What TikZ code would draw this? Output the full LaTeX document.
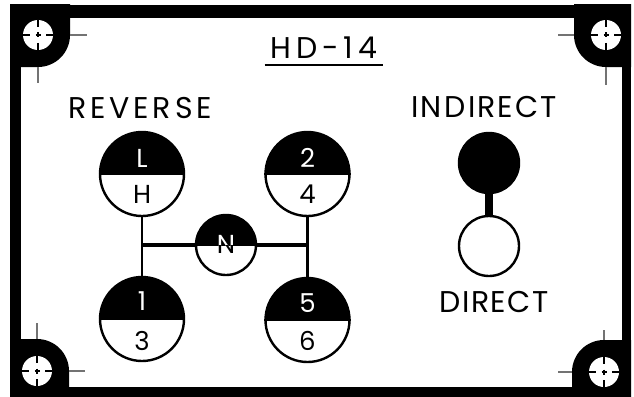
\documentclass[tikz,border=0pt]{standalone}
\usepackage{fontspec}
\newfontfamily\platefont{Poppins}
\newfontfamily\gearfont{Poppins}

\tikzset{
  outline/.style={line width=2.4pt},
  gear/.style={circle, draw, outline, minimum size=84pt, inner sep=0pt,
    path picture={\fill[black] (path picture bounding box.north west)
      rectangle (path picture bounding box.east);}},
  smallgear/.style={gear, minimum size=60pt},
  plainball/.style={circle, draw, outline, minimum size=60pt, inner sep=0pt},
  toplbl/.style={text=white, inner sep=0pt, font=\gearfont\fontsize{26}{28}\selectfont},
  botlbl/.style={text=black, inner sep=0pt, font=\gearfont\fontsize{26}{28}\selectfont},
  caption/.style={inner sep=0pt,
    font=\platefont\fontsize{30}{32}\selectfont\addfontfeature{LetterSpace=#1}},
  stem/.style={line width=2.6pt},
  bar/.style={line width=4pt},
  neck/.style={line width=8pt},
  guide/.style={line width=1.6pt, black!55},
  crosshair/.style={line width=1.4pt, black},
}

\begin{document}
\begin{tikzpicture}[x=1pt, y=-1pt]
\useasboundingbox (0,0) rectangle (634,396);

% plate with black rim and rounded corner blocks
\begin{scope}
  \clip (10,5) rectangle (631,400);
  \fill[black] (10,5) rectangle (631,400);
  \fill[white] (21,18) rectangle (622,387);
  \fill[black, rounded corners=32pt] (-40,-40) rectangle (70,67);
  \fill[black, rounded corners=32pt] (574,-40) rectangle (680,67);
  \fill[black, rounded corners=32pt] (-40,339) rectangle (69,440);
  \fill[black, rounded corners=32pt] (572,340) rectangle (680,440);
\end{scope}

% screw holes with crosshairs
\foreach \hx/\hy in {38/35, 606/35, 37/371, 604/372} {
  \fill[white] (\hx,\hy) circle[radius=15pt];
  \draw[crosshair] (\hx-15,\hy) -- (\hx-8,\hy) (\hx+8,\hy) -- (\hx+15,\hy)
                   (\hx,\hy-15) -- (\hx,\hy-8) (\hx,\hy+8) -- (\hx,\hy+15)
                   (\hx-2.5,\hy) -- (\hx+2.5,\hy) (\hx,\hy-2.5) -- (\hx,\hy+2.5);
}

% alignment ticks beside the corner blocks
\draw[guide] (70,35) -- (87,35) (38,67) -- (38,83);
\draw[guide] (558,35) -- (574,35) (606,67) -- (606,85);
\draw[guide] (37,323) -- (37,339) (69,371) -- (85,371);
\draw[guide] (558,372) -- (572,372) (604,330) -- (604,340);

% title
\node[caption=16] (title) at (324,48) {HD-14};
\draw[line width=2.8pt] ([xshift=-6pt,yshift=-6pt]title.south west)
  -- ([xshift=6pt,yshift=-6pt]title.south east);

% captions
\node[caption=13] (reverse) at (140,108) {REVERSE};
\node[caption=7] (indirect) at (484,107) {IN\kern3pt DIRECT};
\node[caption=5] (direct) at (494,302) {DIRECT};

% shift gate positions
\node[gear] (lh) at (142,174) {};
\node[gear] (tf) at (307.5,174) {};
\node[gear] (ot) at (142,319) {};
\node[gear] (fs) at (307.5,320) {};
\node[smallgear] (n) at (226,245) {};

\foreach \g in {lh, tf, ot, fs, n}
  \draw[outline] (\g.west) -- (\g.east);

% gate connections
\draw[stem] (lh) -- (ot);
\draw[stem] (tf) -- (fs);
\draw[bar] (n.west) -- (n.west -| lh.center);
\draw[bar] (n.east) -- (n.east -| tf.center);

% gear labels
\node[toplbl] (lhTop) at ([yshift=16pt]lh.center) {L};
\node[botlbl] (lhBot) at ([yshift=-20pt]lh.center) {H};
\node[toplbl] (tfTop) at ([yshift=16pt]tf.center) {2};
\node[botlbl] (tfBot) at ([yshift=-20pt]tf.center) {4};
\node[toplbl] (otTop) at ([yshift=18pt]ot.center) {1};
\node[botlbl] (otBot) at ([yshift=-22pt]ot.center) {3};
\node[toplbl] (fsTop) at ([yshift=17pt]fs.center) {5};
\node[botlbl] (fsBot) at ([yshift=-21pt]fs.center) {6};

% neutral letter split across the two halves
\begin{scope}
  \clip ([xshift=-40pt]n.center) rectangle ([xshift=40pt,yshift=40pt]n.center);
  \node[toplbl] (nTop) at ([yshift=1pt]n.center) {N};
\end{scope}
\begin{scope}
  \clip ([xshift=-40pt]n.center) rectangle ([xshift=40pt,yshift=-40pt]n.center);
  \node[botlbl] (nBot) at ([yshift=1pt]n.center) {N};
\end{scope}

% range selector
\node[plainball, fill=black] (ind) at (489,163) {};
\node[plainball] (dir) at (489,246) {};
\draw[neck] (ind) -- (dir);
\end{tikzpicture}
\end{document}
